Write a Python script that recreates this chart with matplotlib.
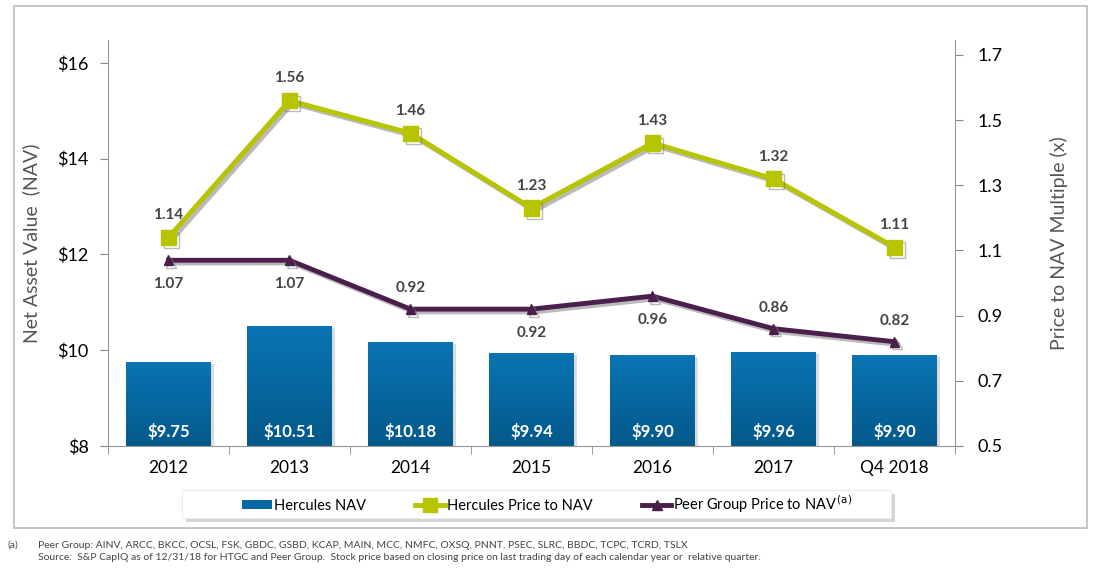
import matplotlib
matplotlib.use("Agg")
import matplotlib.pyplot as plt
import matplotlib.patheffects as pe
from matplotlib.colors import LinearSegmentedColormap
from matplotlib.patches import Rectangle
from matplotlib.lines import Line2D
import numpy as np

plt.rcParams['font.family'] = ['Lato', 'DejaVu Sans']

categories = ["2012", "2013", "2014", "2015", "2016", "2017", "Q4 2018"]
nav = [9.75, 10.51, 10.18, 9.94, 9.90, 9.96, 9.90]
herc_p2nav = [1.14, 1.56, 1.46, 1.23, 1.43, 1.32, 1.11]
peer_p2nav = [1.07, 1.07, 0.92, 0.92, 0.96, 0.86, 0.82]
peer_label_above = [False, False, True, False, False, True, True]

BAR_TOP = "#0a74b4"
BAR_BOT = "#04598a"
GREEN = "#b7c400"
PURPLE = "#4a1f4c"
GRAY = "#555555"

fig = plt.figure(figsize=(11.02, 5.70), dpi=100)
W, H = 1102, 570

# outer frame
fig.add_artist(Rectangle((14 / W, 1 - 528 / H), (1087 - 14) / W, (528 - 6) / H,
                         transform=fig.transFigure, fill=False,
                         edgecolor="#bbbbbb", linewidth=1.2))

ax = fig.add_axes([108 / W, 1 - 446 / H, (955 - 108) / W, (446 - 40) / H])
ax2 = ax.twinx()

x = np.arange(len(categories))
bw = 0.7
cmap = LinearSegmentedColormap.from_list("bar", [BAR_BOT, BAR_TOP])
for xi, v in zip(x, nav):
    ax.add_patch(Rectangle((xi - bw / 2 + 0.03, 8), bw, v - 8 - 0.04,
                           facecolor="#999999", alpha=0.35, edgecolor="none", zorder=1))
    r = Rectangle((xi - bw / 2, 8), bw, v - 8, facecolor="none", edgecolor="none", zorder=2)
    ax.add_patch(r)
    im = ax.imshow(np.linspace(0, 1, 100).reshape(-1, 1)[::-1], cmap=cmap,
                   extent=[xi - bw / 2, xi + bw / 2, 8, v], aspect="auto", zorder=2)
    im.set_clip_path(r)
    ax.text(xi, 8.3, f"${v:.2f}", ha="center", va="center", color="white",
            fontsize=12, fontweight="bold", zorder=3)

ax.set_xlim(-0.5, len(categories) - 0.5)
ax.set_ylim(8, 16.48)
ax.set_yticks([8, 10, 12, 14, 16])
ax.set_yticklabels(["$8", "$10", "$12", "$14", "$16"], fontsize=13)
ax.set_xticks(x)
ax.set_xticklabels(categories, fontsize=12.5)
ax.set_xticks(np.arange(-0.5, len(categories), 1), minor=True)
ax.tick_params(axis="x", which="major", length=0, pad=10)
ax.tick_params(axis="x", which="minor", length=6, color="#888888")
ax.tick_params(axis="y", length=6, color="#888888", pad=8)
for s in ["top", "right"]:
    ax.spines[s].set_visible(False)
ax.spines["left"].set_color("#999999")
ax.spines["bottom"].set_color("#999999")
ax.set_ylabel("Net Asset Value  (NAV)", fontsize=14, color=GRAY, labelpad=12)

shadow = [pe.SimpleLineShadow(offset=(2, -2), shadow_color="#777777", alpha=0.5), pe.Normal()]
ax2.plot(x, herc_p2nav, color=GREEN, linewidth=3.5, marker="s", markersize=11,
         markerfacecolor=GREEN, markeredgecolor=GREEN, zorder=5, path_effects=shadow)
ax2.plot(x, peer_p2nav, color=PURPLE, linewidth=3.5, marker="^", markersize=7,
         zorder=5, path_effects=shadow)
for xi, v in zip(x, herc_p2nav):
    ax2.annotate(f"{v:.2f}", (xi, v), xytext=(0, 11), textcoords="offset points",
                 ha="center", va="bottom", fontsize=11, fontweight="bold", color="#444444")
for xi, v, above in zip(x, peer_p2nav, peer_label_above):
    off = 10 if above else -12
    ax2.annotate(f"{v:.2f}", (xi, v), xytext=(0, off), textcoords="offset points",
                 ha="center", va="bottom" if above else "top", fontsize=11,
                 fontweight="bold", color="#444444")

ax2.set_ylim(0.5, 1.746)
ax2.set_yticks([0.5, 0.7, 0.9, 1.1, 1.3, 1.5, 1.7])
ax2.set_yticklabels(["0.5", "0.7", "0.9", "1.1", "1.3", "1.5", "1.7"], fontsize=13)
ax2.tick_params(axis="y", length=6, color="#888888", pad=10)
for s in ["top", "left", "bottom"]:
    ax2.spines[s].set_visible(False)
ax2.spines["right"].set_color("#999999")
ax2.set_ylabel("Price to NAV Multiple (x)", fontsize=14, color=GRAY, labelpad=34)

# legend box (manual frame with shadow)
lx0, lx1, ly0, ly1 = 182, 891, 490, 518
fig.add_artist(Rectangle(((lx0 + 4) / W, 1 - (ly1 + 4) / H), (lx1 - lx0) / W, (ly1 - ly0) / H,
                         transform=fig.transFigure, facecolor="#aaaaaa", alpha=0.5,
                         edgecolor="none", zorder=2))
fig.add_artist(Rectangle((lx0 / W, 1 - ly1 / H), (lx1 - lx0) / W, (ly1 - ly0) / H,
                         transform=fig.transFigure, facecolor="white",
                         edgecolor="#eeeeee", linewidth=0.8, zorder=3))

handles = [
    Rectangle((0, 0), 1, 1, facecolor="#0868a3", edgecolor="none"),
    Line2D([], [], color=GREEN, linewidth=3.5, marker="s", markersize=10),
    Line2D([], [], color=PURPLE, linewidth=3.5, marker="^", markersize=7),
]
labels = ["Hercules NAV", "Hercules Price to NAV", r"Peer Group Price to NAV$^{\,\mathrm{(a)}}$"]
leg = fig.legend(handles, labels, loc="center",
                 bbox_to_anchor=((250 + 845) / 2 / W, 1 - 504 / H),
                 ncol=3, fontsize=10.5, frameon=False,
                 handlelength=2.0, handleheight=0.6, handletextpad=0.15,
                 columnspacing=3.4, borderpad=0.0)
leg.set_zorder(4)

fig.text(8 / W, 1 - 545 / H, "(a)", fontsize=7.5, color="#444444", va="center")
fig.text(38 / W, 1 - 545 / H,
         "Peer Group: AINV, ARCC, BKCC, OCSL, FSK, GBDC, GSBD, KCAP, MAIN, MCC, NMFC, OXSQ, PNNT, PSEC, SLRC, BBDC, TCPC, TCRD, TSLX",
         fontsize=7.5, color="#444444", va="center")
fig.text(38 / W, 1 - 558 / H,
         "Source:  S&P CapIQ as of 12/31/18 for HTGC and Peer Group.  Stock price based on closing price on last trading day of each calendar year or  relative quarter.",
         fontsize=7.5, color="#444444", va="center")

fig.savefig("out.png", dpi=100)
